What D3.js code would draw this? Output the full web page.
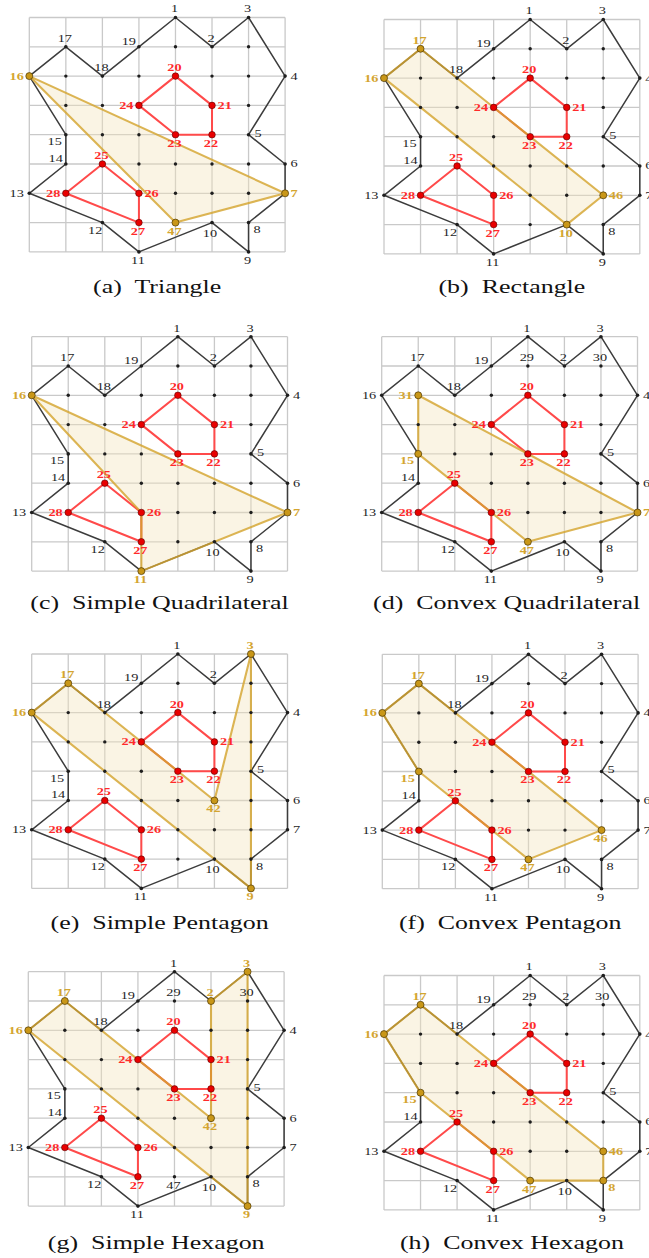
<!DOCTYPE html>
<html><head><meta charset="utf-8">
<script src="https://cdn.jsdelivr.net/npm/d3@7"></script>
<style>body{margin:0;background:#fff}svg{display:block}</style>
</head><body>
<script>
// ---- DATA ----
// vertex id, grid column, grid row (row 0 = top)
const vertices = [
  [1,4,0],[2,5,1],[3,6,0],[4,7,2],[5,6,4],[6,7,5],[7,7,6],[8,6,7],[9,6,8],[10,5,7],
  [11,3,8],[12,2,7],[13,0,6],[14,1,5],[15,1,4],[16,0,2],[17,1,1],[18,2,2],[19,3,1],
  [20,4,2],[21,5,3],[22,5,4],[23,4,4],[24,3,3],
  [25,2,5],[26,3,6],[27,3,7],[28,1,6],
  [29,4,1],[30,6,1],[31,1,2],[42,5,5],[46,6,6],[47,4,7]
];
const outerBoundary = [1,2,3,4,5,6,7,8,9,10,11,12,13,14,15,16,17,18,19];
const holes = [[20,21,22,23,24],[25,26,27,28]];
const interiorPoints = [[4,1],[6,1],[1,2],[3,2],[5,2],[6,2],[1,3],[2,3],[6,3],[2,4],[3,4],
  [3,5],[4,5],[5,5],[6,5],[4,6],[5,6],[6,6],[4,7]];
const panelLetters = ['a','b','c','d','e','f','g','h'];
const panelTitles = ['Triangle','Rectangle','Simple Quadrilateral','Convex Quadrilateral',
  'Simple Pentagon','Convex Pentagon','Simple Hexagon','Convex Hexagon'];
const panelPolygons = [
  [16,7,47],[16,17,46,10],[16,7,11,26],[31,7,47,15],
  [16,17,42,3,9],[16,17,46,47,15],[16,17,42,2,3,9],[16,17,46,8,47,15]
];
const panelExtraLabels = [[],[],[],[29,30],[],[],[29,30,47],[29,30]];
const gridCols = 7, gridRows = 8;

// ---- LAYOUT ----
const W = 649, H = 1258;
const origins = [[29.3,17.5],[384,19.5],[31.7,336.7],[381.7,336.7],[31.7,654],[382.3,654.3],[28.3,971.7],[384,975.5]];
const captionY = [287,287,603,603,923,923,1243,1243];
const captionShift = [0,0,0,-3,0,0,0,0];
const gridW = 255.8, gridH = 234.4;
const placeOf = {1:'n',2:'n',3:'n',4:'e',5:'e5',6:'e',7:'e',8:'se',9:'s',10:'s10',11:'s',12:'sw12',
  13:'w',14:'nw',15:'sw',16:'w',17:'n',18:'n',19:'nw',20:'n',21:'e',22:'s',23:'s',24:'w',25:'n',
  26:'e',27:'s',28:'w',29:'n',30:'n',31:'w',42:'s',46:'e',47:'s'};
const placeOverride = {5:{46:'s'}, 1:{10:'s'}};
const offsets = {n:[-1,-8.5,'middle'], s:[-1,8.5,'middle'], e:[5.5,0,'start'], e5:[6,-1.5,'start'],
  se:[5,7,'start'], s10:[-2,10.5,'middle'], sw12:[0,7.5,'end'], sw:[-4,7,'end'], nw:[-3,-5.5,'end'],
  w:[-5.5,0,'end']};

const GOLD = '#d4a530', GOLDDOT = '#c99718', RED = '#ff4a4a', REDTXT = '#ff2a2a';
const byId = new Map(vertices.map(v => [v[0], v]));
const holeIds = new Set(holes.flat());

const svg = d3.select('body').append('svg').attr('width', W).attr('height', H)
  .style('font-family', '"Liberation Serif", "DejaVu Serif", serif');

panelLetters.forEach((letter, pi) => {
  const [x0, y0] = origins[pi];
  const x = d3.scaleLinear().domain([0, gridCols]).range([x0, x0 + gridW]);
  const y = d3.scaleLinear().domain([0, gridRows]).range([y0, y0 + gridH]);
  const P = id => { const v = byId.get(id); return [x(v[1]), y(v[2])]; };
  const g = svg.append('g');
  const poly = panelPolygons[pi];
  const polySet = new Set(poly);

  // grid
  g.append('g').selectAll('line').data(d3.range(gridCols + 1)).join('line')
    .attr('x1', d => x(d)).attr('x2', d => x(d)).attr('y1', y(0)).attr('y2', y(gridRows))
    .attr('stroke', '#c9c9c9').attr('stroke-width', 1.3);
  g.append('g').selectAll('line').data(d3.range(gridRows + 1)).join('line')
    .attr('y1', d => y(d)).attr('y2', d => y(d)).attr('x1', x(0)).attr('x2', x(gridCols))
    .attr('stroke', '#c9c9c9').attr('stroke-width', 1.3);

  const line = d3.line().curve(d3.curveLinearClosed);

  // highlighted polygon fill
  g.append('path').attr('d', line(poly.map(P))).attr('fill', '#f3e3bb').attr('fill-opacity', 0.4)
    .attr('stroke', 'none');

  // outer boundary
  g.append('path').attr('d', line(outerBoundary.map(P))).attr('fill', 'none')
    .attr('stroke', '#3c3c3c').attr('stroke-width', 1.5).attr('stroke-linejoin', 'round');

  // holes
  holes.forEach(h => {
    g.append('path').attr('d', line(h.map(P))).attr('fill', 'none')
      .attr('stroke', RED).attr('stroke-width', 2).attr('stroke-linejoin', 'round');
  });

  // highlighted polygon stroke
  g.append('path').attr('d', line(poly.map(P))).attr('fill', 'none')
    .attr('stroke', GOLD).attr('stroke-width', 2.1).attr('stroke-opacity', 0.82)
    .attr('stroke-linejoin', 'round');

  // interior dots
  g.append('g').selectAll('circle').data(interiorPoints).join('circle')
    .attr('cx', d => x(d[0])).attr('cy', d => y(d[1])).attr('r', 1.7).attr('fill', '#1e1e1e');

  // outer vertex dots
  g.append('g').selectAll('circle').data(outerBoundary).join('circle')
    .attr('cx', d => P(d)[0]).attr('cy', d => P(d)[1]).attr('r', 1.8).attr('fill', '#1e1e1e');

  // hole vertices
  g.append('g').selectAll('circle').data(holes.flat()).join('circle')
    .attr('cx', d => P(d)[0]).attr('cy', d => P(d)[1]).attr('r', 3.3)
    .attr('fill', '#e80000').attr('stroke', '#5a0000').attr('stroke-width', 0.6);

  // highlighted vertices
  g.append('g').selectAll('circle').data(poly.filter(d => !holeIds.has(d))).join('circle')
    .attr('cx', d => P(d)[0]).attr('cy', d => P(d)[1]).attr('r', 3.5)
    .attr('fill', GOLDDOT).attr('stroke', '#4a3500').attr('stroke-width', 0.7);

  // labels
  const labelIds = outerBoundary.concat(holes.flat());
  poly.forEach(id => { if (!labelIds.includes(id)) labelIds.push(id); });
  panelExtraLabels[pi].forEach(id => { if (!labelIds.includes(id)) labelIds.push(id); });
  labelIds.forEach(id => {
    const pl = (placeOverride[pi] && placeOverride[pi][id]) || placeOf[id];
    const [dx, dy, anchor] = offsets[pl];
    const [px, py] = P(id);
    let color = '#1e1e1e', weight = 'normal';
    if (holeIds.has(id)) { color = REDTXT; weight = 'bold'; }
    else if (polySet.has(id)) { color = GOLD; weight = 'bold'; }
    g.append('text')
      .attr('transform', `translate(${px + dx},${py + dy}) scale(1.3,1)`)
      .attr('text-anchor', anchor).attr('dominant-baseline', 'central')
      .attr('font-size', 11).attr('font-weight', weight).attr('fill', color)
      .text(id);
  });

  // caption
  g.append('text')
    .attr('transform', `translate(${x0 + gridW / 2 + captionShift[pi]},${captionY[pi]}) scale(1.33,1)`)
    .attr('text-anchor', 'middle').attr('dominant-baseline', 'central')
    .attr('font-size', 19.5).attr('fill', '#111').style('white-space', 'pre')
    .text(`(${letter})  ${panelTitles[pi]}`);
});
</script>
</body></html>
